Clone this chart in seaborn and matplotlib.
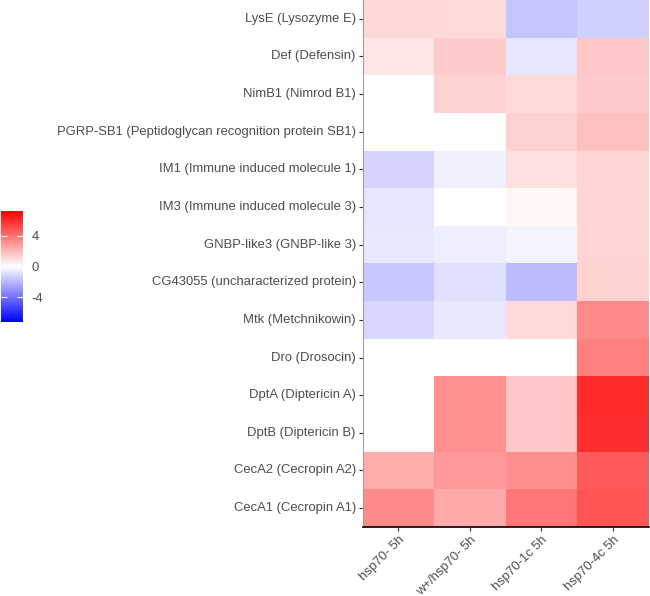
import numpy as np
import pandas as pd
import matplotlib
matplotlib.use("Agg")
import matplotlib.pyplot as plt
import seaborn as sns
from matplotlib.colors import LinearSegmentedColormap

genes = ["LysE (Lysozyme E)", "Def (Defensin)", "NimB1 (Nimrod B1)",
         "PGRP-SB1 (Peptidoglycan recognition protein SB1)",
         "IM1 (Immune induced molecule 1)", "IM3 (Immune induced molecule 3)",
         "GNBP-like3 (GNBP-like 3)", "CG43055 (uncharacterized protein)",
         "Mtk (Metchnikowin)", "Dro (Drosocin)", "DptA (Diptericin A)",
         "DptB (Diptericin B)", "CecA2 (Cecropin A2)", "CecA1 (Cecropin A1)"]
conditions = ["hsp70- 5h", "w+/hsp70- 5h", "hsp70-1c 5h", "hsp70-4c 5h"]

hsp70_5h = [1.1, 0.73, 0, 0, -1.2, -0.7, -0.65, -1.55, -1.1, 0, 0, 0, 2.34, 3.3]
w_hsp70_5h = [1.05, 1.5, 1.27, 0, -0.42, 0, -0.48, -0.88, -0.65, 0, 3.13, 3.13, 2.9, 2.4]
hsp70_1c_5h = [-1.64, -0.7, 1.05, 1.27, 0.88, 0.25, -0.31, -1.9, 1.05, 0, 1.55, 1.55, 3.19, 3.87]
hsp70_4c_5h = [-1.33, 1.55, 1.5, 1.78, 1.2, 1.2, 1.2, 1.27, 3.3, 3.6, 6.0, 5.85, 4.66, 4.83]

df = pd.DataFrame({conditions[0]: hsp70_5h, conditions[1]: w_hsp70_5h,
                   conditions[2]: hsp70_1c_5h, conditions[3]: hsp70_4c_5h},
                  index=genes)

lim = 7.2
cmap = LinearSegmentedColormap.from_list("bwr2", ["#0000FF", "#FFFFFF", "#FF0000"])

plt.rcParams['font.family'] = ['Liberation Sans', 'DejaVu Sans']

fig = plt.figure(figsize=(6.5, 5.96), dpi=100)
ax = fig.add_axes([0.558, 0.116, 0.440, 0.884])
cax = fig.add_axes([0.0015, 0.46, 0.034, 0.186])

sns.heatmap(df, ax=ax, cmap=cmap, vmin=-lim, vmax=lim, cbar_ax=cax,
            cbar_kws={"ticks": [-4, 0, 4]})

txt = "#4D4D4D"
fs = 9.4
ax.tick_params(axis="y", length=3, width=0.8, color="#333333", labelsize=fs,
               labelcolor=txt, pad=2)
ax.tick_params(axis="x", length=3, width=0.8, color="#333333", labelsize=fs,
               labelcolor=txt, pad=2)
ax.set_yticklabels(genes, rotation=0)
ax.set_xticklabels(conditions, rotation=45, ha="right", rotation_mode="anchor")
ax.set_xlabel("")
ax.set_ylabel("")
ax.spines["left"].set_visible(True)
ax.spines["left"].set_color("#A0A0A0")
ax.spines["left"].set_linewidth(0.8)
ax.spines["bottom"].set_visible(True)
ax.spines["bottom"].set_color("black")
ax.spines["bottom"].set_linewidth(1.2)

cbar = ax.collections[0].colorbar
cbar.outline.set_visible(False)
cax.tick_params(direction="in", left=True, right=True, length=4, width=0.8,
                colors="white", labelcolor=txt, labelsize=fs, pad=6)
cax.set_yticklabels(["-4", "0", "4"])

fig.savefig("out.png", dpi=100)
